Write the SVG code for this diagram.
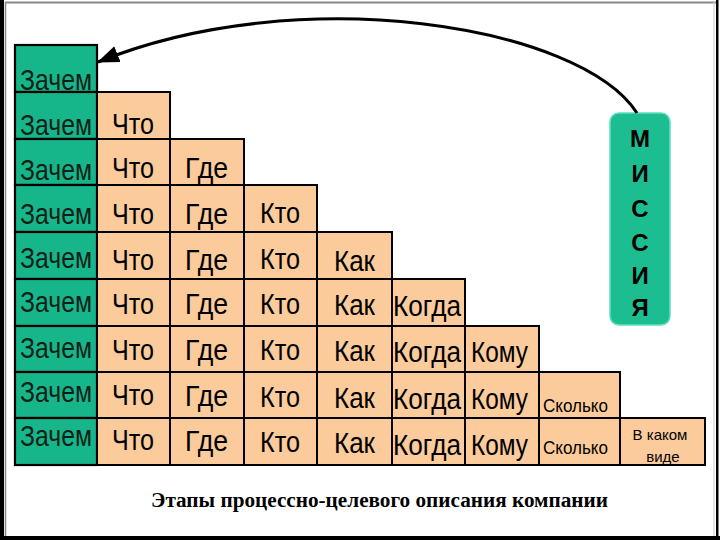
<svg xmlns="http://www.w3.org/2000/svg" width="720" height="540" viewBox="0 0 720 540">
<style>
.g{fill:#16b68a;stroke:#000;stroke-width:2.2}
.b{fill:#fccb9b;stroke:#000;stroke-width:2}
.t{font-family:"Liberation Sans",Arial,sans-serif;font-size:29px;fill:#000}
.tg{font-family:"Liberation Sans",Arial,sans-serif;font-size:29px;fill:#0d1f17}
.s{font-family:"Liberation Sans",Arial,sans-serif;font-size:18px;fill:#000}
.xs{font-family:"Liberation Sans",Arial,sans-serif;font-size:15px;fill:#000;text-anchor:middle}
.m{font-family:"Liberation Sans",Arial,sans-serif;font-size:24px;font-weight:bold;fill:#000;text-anchor:middle}
.cap{font-family:"Liberation Serif","Times New Roman",serif;font-size:20px;font-weight:bold;fill:#000}
</style>
<defs>
<marker id="ah" markerUnits="userSpaceOnUse" viewBox="0 -9 22 18" refX="21" refY="0" markerWidth="22" markerHeight="18" orient="auto">
<path d="M0,-8.5 L22,0 L0,8.5 z" fill="#000"/>
</marker>
</defs>
<rect width="720" height="540" fill="#fff"/>
<g id="frame">
<rect x="0" y="0" width="4" height="540" fill="#000"/>
<line x1="5.5" y1="2" x2="5.5" y2="536" stroke="#888" stroke-width="1.5"/>
<line x1="5" y1="2.5" x2="716" y2="2.5" stroke="#888" stroke-width="2"/>
<line x1="714" y1="2" x2="714" y2="536" stroke="#ccc" stroke-width="1"/>
<rect x="716" y="0" width="2.5" height="540" fill="#000"/>
<rect x="0" y="536" width="720" height="4" fill="#000"/>
</g>

<g id="col-zachem">
<g id="c0-0"><rect class="g" x="15" y="45" width="82" height="47"/><text class="tg" x="20" y="90" textLength="72" lengthAdjust="spacingAndGlyphs">Зачем</text></g>
<g id="c0-1"><rect class="g" x="15" y="92" width="82" height="47"/><text class="tg" x="20" y="135" textLength="72" lengthAdjust="spacingAndGlyphs">Зачем</text></g>
<g id="c0-2"><rect class="g" x="15" y="139" width="82" height="46"/><text class="tg" x="20" y="180" textLength="72" lengthAdjust="spacingAndGlyphs">Зачем</text></g>
<g id="c0-3"><rect class="g" x="15" y="185" width="82" height="47"/><text class="tg" x="20" y="224" textLength="72" lengthAdjust="spacingAndGlyphs">Зачем</text></g>
<g id="c0-4"><rect class="g" x="15" y="232" width="82" height="47"/><text class="tg" x="20" y="268" textLength="72" lengthAdjust="spacingAndGlyphs">Зачем</text></g>
<g id="c0-5"><rect class="g" x="15" y="279" width="82" height="47"/><text class="tg" x="20" y="312" textLength="72" lengthAdjust="spacingAndGlyphs">Зачем</text></g>
<g id="c0-6"><rect class="g" x="15" y="326" width="82" height="46"/><text class="tg" x="20" y="358" textLength="72" lengthAdjust="spacingAndGlyphs">Зачем</text></g>
<g id="c0-7"><rect class="g" x="15" y="372" width="82" height="46"/><text class="tg" x="20" y="402" textLength="72" lengthAdjust="spacingAndGlyphs">Зачем</text></g>
<g id="c0-8"><rect class="g" x="15" y="418" width="82" height="47"/><text class="tg" x="20" y="446" textLength="72" lengthAdjust="spacingAndGlyphs">Зачем</text></g>
</g>

<g id="col-chto">
<g id="c1-1"><rect class="b" x="97" y="92" width="73" height="47"/><text class="t" x="112" y="134" textLength="42" lengthAdjust="spacingAndGlyphs">Что</text></g>
<g id="c1-2"><rect class="b" x="97" y="139" width="73" height="46"/><text class="t" x="112" y="178" textLength="42" lengthAdjust="spacingAndGlyphs">Что</text></g>
<g id="c1-3"><rect class="b" x="97" y="185" width="73" height="47"/><text class="t" x="112" y="224" textLength="42" lengthAdjust="spacingAndGlyphs">Что</text></g>
<g id="c1-4"><rect class="b" x="97" y="232" width="73" height="47"/><text class="t" x="112" y="270" textLength="42" lengthAdjust="spacingAndGlyphs">Что</text></g>
<g id="c1-5"><rect class="b" x="97" y="279" width="73" height="47"/><text class="t" x="112" y="314" textLength="42" lengthAdjust="spacingAndGlyphs">Что</text></g>
<g id="c1-6"><rect class="b" x="97" y="326" width="73" height="46"/><text class="t" x="112" y="360" textLength="42" lengthAdjust="spacingAndGlyphs">Что</text></g>
<g id="c1-7"><rect class="b" x="97" y="372" width="73" height="46"/><text class="t" x="112" y="405" textLength="42" lengthAdjust="spacingAndGlyphs">Что</text></g>
<g id="c1-8"><rect class="b" x="97" y="418" width="73" height="47"/><text class="t" x="112" y="450" textLength="42" lengthAdjust="spacingAndGlyphs">Что</text></g>
</g>

<g id="col-gde">
<g id="c2-2"><rect class="b" x="170" y="139" width="74" height="46"/><text class="t" x="185" y="178" textLength="43" lengthAdjust="spacingAndGlyphs">Где</text></g>
<g id="c2-3"><rect class="b" x="170" y="185" width="74" height="47"/><text class="t" x="185" y="224" textLength="43" lengthAdjust="spacingAndGlyphs">Где</text></g>
<g id="c2-4"><rect class="b" x="170" y="232" width="74" height="47"/><text class="t" x="185" y="270" textLength="43" lengthAdjust="spacingAndGlyphs">Где</text></g>
<g id="c2-5"><rect class="b" x="170" y="279" width="74" height="47"/><text class="t" x="185" y="314" textLength="43" lengthAdjust="spacingAndGlyphs">Где</text></g>
<g id="c2-6"><rect class="b" x="170" y="326" width="74" height="46"/><text class="t" x="185" y="360" textLength="43" lengthAdjust="spacingAndGlyphs">Где</text></g>
<g id="c2-7"><rect class="b" x="170" y="372" width="74" height="46"/><text class="t" x="185" y="406" textLength="43" lengthAdjust="spacingAndGlyphs">Где</text></g>
<g id="c2-8"><rect class="b" x="170" y="418" width="74" height="47"/><text class="t" x="185" y="451" textLength="43" lengthAdjust="spacingAndGlyphs">Где</text></g>
</g>

<g id="col-kto">
<g id="c3-3"><rect class="b" x="244" y="185" width="73" height="47"/><text class="t" x="260" y="223" textLength="40" lengthAdjust="spacingAndGlyphs">Кто</text></g>
<g id="c3-4"><rect class="b" x="244" y="232" width="73" height="47"/><text class="t" x="260" y="269" textLength="40" lengthAdjust="spacingAndGlyphs">Кто</text></g>
<g id="c3-5"><rect class="b" x="244" y="279" width="73" height="47"/><text class="t" x="260" y="314" textLength="40" lengthAdjust="spacingAndGlyphs">Кто</text></g>
<g id="c3-6"><rect class="b" x="244" y="326" width="73" height="46"/><text class="t" x="260" y="360" textLength="40" lengthAdjust="spacingAndGlyphs">Кто</text></g>
<g id="c3-7"><rect class="b" x="244" y="372" width="73" height="46"/><text class="t" x="260" y="407" textLength="40" lengthAdjust="spacingAndGlyphs">Кто</text></g>
<g id="c3-8"><rect class="b" x="244" y="418" width="73" height="47"/><text class="t" x="260" y="452" textLength="40" lengthAdjust="spacingAndGlyphs">Кто</text></g>
</g>

<g id="col-kak">
<g id="c4-4"><rect class="b" x="317" y="232" width="75" height="47"/><text class="t" x="334" y="271" textLength="41" lengthAdjust="spacingAndGlyphs">Как</text></g>
<g id="c4-5"><rect class="b" x="317" y="279" width="75" height="47"/><text class="t" x="334" y="315" textLength="41" lengthAdjust="spacingAndGlyphs">Как</text></g>
<g id="c4-6"><rect class="b" x="317" y="326" width="75" height="46"/><text class="t" x="334" y="361" textLength="41" lengthAdjust="spacingAndGlyphs">Как</text></g>
<g id="c4-7"><rect class="b" x="317" y="372" width="75" height="46"/><text class="t" x="334" y="408" textLength="41" lengthAdjust="spacingAndGlyphs">Как</text></g>
<g id="c4-8"><rect class="b" x="317" y="418" width="75" height="47"/><text class="t" x="334" y="453" textLength="41" lengthAdjust="spacingAndGlyphs">Как</text></g>
</g>

<g id="col-kogda">
<g id="c5-5"><rect class="b" x="392" y="279" width="73" height="47"/><text class="t" x="393" y="316" textLength="68" lengthAdjust="spacingAndGlyphs">Когда</text></g>
<g id="c5-6"><rect class="b" x="392" y="326" width="73" height="46"/><text class="t" x="393" y="362" textLength="68" lengthAdjust="spacingAndGlyphs">Когда</text></g>
<g id="c5-7"><rect class="b" x="392" y="372" width="73" height="46"/><text class="t" x="393" y="409" textLength="68" lengthAdjust="spacingAndGlyphs">Когда</text></g>
<g id="c5-8"><rect class="b" x="392" y="418" width="73" height="47"/><text class="t" x="393" y="455" textLength="68" lengthAdjust="spacingAndGlyphs">Когда</text></g>
</g>

<g id="col-komu">
<g id="c6-6"><rect class="b" x="465" y="326" width="74" height="46"/><text class="t" x="471" y="362" textLength="57" lengthAdjust="spacingAndGlyphs">Кому</text></g>
<g id="c6-7"><rect class="b" x="465" y="372" width="74" height="46"/><text class="t" x="471" y="409" textLength="57" lengthAdjust="spacingAndGlyphs">Кому</text></g>
<g id="c6-8"><rect class="b" x="465" y="418" width="74" height="47"/><text class="t" x="471" y="455" textLength="57" lengthAdjust="spacingAndGlyphs">Кому</text></g>
</g>

<g id="col-skolko">
<g id="c7-7"><rect class="b" x="539" y="372" width="81" height="46"/><text class="s" x="543" y="412" textLength="65" lengthAdjust="spacingAndGlyphs">Сколько</text></g>
<g id="c7-8"><rect class="b" x="539" y="418" width="81" height="47"/><text class="s" x="543" y="454" textLength="65" lengthAdjust="spacingAndGlyphs">Сколько</text></g>
</g>

<g id="col-vide">
<g id="c8-8"><rect class="b" x="620" y="418" width="85" height="47"/><text class="xs" x="660" y="440">В каком</text><text class="xs" x="663" y="462">виде</text></g>
</g>

<g id="missia">
<rect x="610" y="113" width="60" height="212" rx="9" fill="#1cbd90" stroke="#5fe0c0" stroke-width="1.5"/>
<text class="m" x="640" y="147">М</text>
<text class="m" x="640" y="182">И</text>
<text class="m" x="640" y="217">С</text>
<text class="m" x="640" y="251">С</text>
<text class="m" x="640" y="284">И</text>
<text class="m" x="640" y="316">Я</text>
</g>

<g id="connectors">
<path d="M637,113 C580,25 300,-20 98,62" fill="none" stroke="#000" stroke-width="3" marker-end="url(#ah)"/>
</g>

<text class="cap" x="151" y="507" textLength="457" lengthAdjust="spacingAndGlyphs">Этапы процессно-целевого описания компании</text>
</svg>
